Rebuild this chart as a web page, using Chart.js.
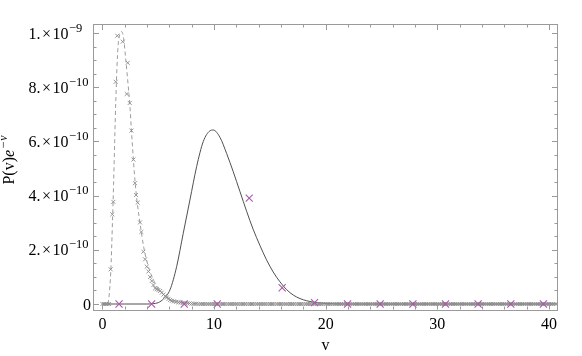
<!DOCTYPE html>
<html><head><meta charset="utf-8">
<script src="https://cdn.jsdelivr.net/npm/chart.js@4/dist/chart.umd.min.js"></script>
<style>html,body{margin:0;padding:0;background:#fff}#wrap{width:582px;height:356px}</style>
</head><body><div id="wrap"><canvas id="c" width="582" height="356"></canvas></div>
<script>
// All P values are in units of 1e-10
const solidV = [0, 2, 4, 4.5, 5, 5.5, 6.05, 6.65, 7.24, 7.84, 8.44, 9.03, 9.63, 9.93, 10.53, 11.13, 11.72, 12.32, 12.92, 13.5, 14.1, 14.7, 15.3, 15.9, 16.5, 17.1, 17.7, 18.3, 18.9, 19.5, 20.5, 22, 30, 40.8];
const solidP = [0, 0, 0, 0.01, 0.05, 0.2, 0.52, 1.38, 2.61, 3.84, 5.07, 5.99, 6.39, 6.42, 6.15, 5.55, 4.88, 4.15, 3.42, 2.76, 2.17, 1.63, 1.18, 0.82, 0.53, 0.33, 0.2, 0.12, 0.07, 0.04, 0.01, 0, 0, 0];

const dashV = [0.5, 0.6, 0.75, 0.9, 1.0, 1.1, 1.2, 1.3, 1.4, 1.55, 1.73, 1.9, 2.1, 2.3, 2.45, 2.6, 2.78, 2.95, 3.1, 3.4, 3.7, 4.0, 4.5, 5, 5.5, 6, 7, 8, 10, 40.8];
const dashP = [0, 0.3, 1.2, 3.0, 4.4, 6.0, 7.5, 8.7, 9.5, 9.95, 10.05, 9.8, 9.0, 8.1, 7.4, 6.4, 5.3, 4.4, 3.8, 2.9, 2.1, 1.55, 0.95, 0.58, 0.35, 0.2, 0.07, 0.02, 0, 0];

const mcV = [0, 0.15, 0.3, 0.45, 0.6, 0.74, 0.89, 0.98, 1.19, 1.33, 1.82, 2.18, 2.27, 2.45, 2.6, 2.78, 2.92, 3.01, 3.16, 3.37, 3.49, 3.67, 3.82, 3.97, 4.12, 4.27, 4.42, 4.57, 4.72, 4.87, 5.02, 5.17, 5.32, 5.47, 5.62, 5.77, 5.92, 6.07, 6.22];
const mcP = [0, 0, 0, 0, 0, 1.28, 3.31, 3.77, 8.2, 9.9, 9.68, 7.75, 8.9, 7.42, 6.4, 5.33, 4.46, 4.02, 3.74, 3.01, 2.66, 1.93, 1.65, 1.38, 1.2, 1.0, 0.85, 0.7, 0.58, 0.55, 0.52, 0.48, 0.42, 0.35, 0.29, 0.24, 0.19, 0.15, 0.12];

const tailV = [6.4, 6.6, 6.8,
  7, 7.2, 7.4, 7.6, 7.8, 8, 8.2, 8.4, 8.6, 8.8, 9, 9.2, 9.4, 9.6, 9.8,
  10, 10.2, 10.4, 10.6, 10.8, 11, 11.2, 11.4, 11.6, 11.8, 12, 12.2, 12.4, 12.6, 12.8,
  13, 13.2, 13.4, 13.6, 13.8, 14, 14.2, 14.4, 14.6, 14.8, 15, 15.2, 15.4, 15.6, 15.8,
  16, 16.2, 16.4, 16.6, 16.8, 17, 17.2, 17.4, 17.6, 17.8, 18, 18.2, 18.4, 18.6, 18.8,
  19, 19.2, 19.4, 19.6, 19.8, 20, 20.2, 20.4, 20.6, 20.8, 21, 21.2, 21.4, 21.6, 21.8,
  22, 22.2, 22.4, 22.6, 22.8, 23, 23.2, 23.4, 23.6, 23.8, 24, 24.2, 24.4, 24.6, 24.8,
  25, 25.2, 25.4, 25.6, 25.8, 26, 26.2, 26.4, 26.6, 26.8, 27, 27.2, 27.4, 27.6, 27.8,
  28, 28.2, 28.4, 28.6, 28.8, 29, 29.2, 29.4, 29.6, 29.8, 30, 30.2, 30.4, 30.6, 30.8,
  31, 31.2, 31.4, 31.6, 31.8, 32, 32.2, 32.4, 32.6, 32.8, 33, 33.2, 33.4, 33.6, 33.8,
  34, 34.2, 34.4, 34.6, 34.8, 35, 35.2, 35.4, 35.6, 35.8, 36, 36.2, 36.4, 36.6, 36.8,
  37, 37.2, 37.4, 37.6, 37.8, 38, 38.2, 38.4, 38.6, 38.8, 39, 39.2, 39.4, 39.6, 39.8,
  40, 40.2, 40.4, 40.6];
const tailP = [0.1, 0.08, 0.065, 0.05, 0.04, 0.03, 0.025, 0.02, 0.015, 0.01, 0.01,
  0,0,0,0,0,0,0,0,0,0,0,0,0,0,0,0,0,0,0,0,
  0,0,0,0,0,0,0,0,0,0,0,0,0,0,0,0,0,0,0,0,
  0,0,0,0,0,0,0,0,0,0,0,0,0,0,0,0,0,0,0,0,
  0,0,0,0,0,0,0,0,0,0,0,0,0,0,0,0,0,0,0,0,
  0,0,0,0,0,0,0,0,0,0,0,0,0,0,0,0,0,0,0,0,
  0,0,0,0,0,0,0,0,0,0,0,0,0,0,0,0,0,0,0,0,
  0,0,0,0,0,0,0,0,0,0,0,0,0,0,0,0,0,0,0,0,
  0,0,0,0,0,0,0,0,0,0,0,0,0,0,0,0,0,0,0,0,
  0];

const magV = [1.49, 4.41, 7.33, 10.29, 13.15, 16.1, 19.0, 21.96, 24.88, 27.81, 30.73, 33.65, 36.58, 39.5];
const magP = [0, 0, 0, 0, 3.91, 0.60, 0.05, 0, 0, 0, 0, 0, 0, 0];

const xTickVals = [0, 10, 20, 30, 40];
const xTickLabels = ['0', '10', '20', '30', '40'];
const xMinorVals = [2, 4, 6, 8, 12, 14, 16, 18, 22, 24, 26, 28, 32, 34, 36, 38];
const yTickVals = [0, 2, 4, 6, 8, 10];
const yTickMant = ['0', '2.', '4.', '6.', '8.', '1.'];
const yTickExp = ['', '\u221210', '\u221210', '\u221210', '\u221210', '\u22129'];
const yMinorVals = [0.5, 1, 1.5, 2.5, 3, 3.5, 4.5, 5, 5.5, 6.5, 7, 7.5, 8.5, 9, 9.5];

const pts = (xs, ys) => xs.map((x, i) => ({x: x, y: ys[i]}));
const SERIF = '"Liberation Serif", "DejaVu Serif", serif';

const framePlugin = {
  id: 'frameTicks',
  afterDraw(chart) {
    const ctx = chart.ctx, a = chart.chartArea;
    const xs = chart.scales.x, ys = chart.scales.y;
    ctx.save();
    ctx.strokeStyle = '#9a9a9a';
    ctx.lineWidth = 1;
    ctx.strokeRect(Math.round(a.left) + 0.5, Math.round(a.top) + 0.5, Math.round(a.right - a.left) - 1, Math.round(a.bottom - a.top) - 1);
    const L = Math.round(a.left) + 0.5, R = Math.round(a.right) - 0.5, T = Math.round(a.top) + 0.5, B = Math.round(a.bottom) - 0.5;
    ctx.beginPath();
    const xt = (v, len) => { const p = Math.round(xs.getPixelForValue(v)) + 0.5; ctx.moveTo(p, B); ctx.lineTo(p, B - len); ctx.moveTo(p, T); ctx.lineTo(p, T + len); };
    const yt = (v, len) => { const p = Math.round(ys.getPixelForValue(v)) + 0.5; ctx.moveTo(L, p); ctx.lineTo(L + len, p); ctx.moveTo(R, p); ctx.lineTo(R - len, p); };
    xTickVals.forEach(v => xt(v, 5.5));
    xMinorVals.forEach(v => xt(v, 3));
    yTickVals.forEach(v => yt(v, 5.5));
    yMinorVals.forEach(v => yt(v, 3));
    ctx.stroke();

    ctx.fillStyle = '#000';
    ctx.textBaseline = 'alphabetic';
    ctx.textAlign = 'center';
    ctx.font = '16px ' + SERIF;
    xTickVals.forEach((v, i) => ctx.fillText(xTickLabels[i], xs.getPixelForValue(v), 328.5));
    // y tick labels
    yTickVals.forEach((v, i) => {
      const py = ys.getPixelForValue(v) + 5.5;
      ctx.font = '16px ' + SERIF;
      if (!yTickExp[i]) { ctx.textAlign = 'right'; ctx.fillText(yTickMant[i], 91, py); return; }
      const x10 = 68.5;
      ctx.textAlign = 'right';
      ctx.fillText('10', x10, py);
      const w10 = ctx.measureText('10').width;
      const xm = x10 - w10 - 1.5;
      ctx.fillText('\u00d7', xm, py);
      const wx = ctx.measureText('\u00d7').width;
      ctx.fillText(yTickMant[i], xm - wx - 1.5, py);
      ctx.textAlign = 'left';
      ctx.font = '12.5px ' + SERIF;
      ctx.fillText(yTickExp[i], x10 + 0.5, py - 7);
    });
    // x title
    ctx.font = '16px ' + SERIF;
    ctx.textAlign = 'center';
    ctx.fillText('v', (a.left + a.right) / 2, 350);
    // y title
    ctx.save();
    ctx.translate(14, 160);
    ctx.rotate(-Math.PI / 2);
    ctx.textAlign = 'left';
    const f1 = '16px ' + SERIF, f2 = 'italic 16px ' + SERIF, f3 = 'italic 12px ' + SERIF;
    ctx.font = f1; const w1 = ctx.measureText('P(v)').width;
    ctx.font = f2; const w2 = ctx.measureText('e').width;
    ctx.font = f3; const w3 = ctx.measureText('\u2212v').width;
    let x0 = -(w1 + w2 + w3 + 1) / 2;
    ctx.font = f1; ctx.fillText('P(v)', x0, 0); x0 += w1;
    ctx.font = f2; ctx.fillText('e', x0, 0); x0 += w2 + 1;
    ctx.font = f3; ctx.fillText('\u2212v', x0, -7);
    ctx.restore();
    ctx.restore();
  }
};

new Chart(document.getElementById('c'), {
  type: 'scatter',
  data: {
    datasets: [
      { label: 'mag', data: pts(magV, magP), pointStyle: 'crossRot', pointRadius: 5, borderColor: '#a85aa8', backgroundColor: '#a85aa8', borderWidth: 1.1, showLine: false },
      { label: 'mc', data: pts(mcV.concat(tailV), mcP.concat(tailP)), pointStyle: 'crossRot', pointRadius: 2.8, borderColor: '#8a8a8a', backgroundColor: '#8a8a8a', borderWidth: 0.9, showLine: false },
      { label: 'dash', data: pts(dashV, dashP), showLine: true, pointRadius: 0, borderColor: '#9c9c9c', borderWidth: 1, borderDash: [4, 3], cubicInterpolationMode: 'monotone', fill: false },
      { label: 'solid', data: pts(solidV, solidP), showLine: true, pointRadius: 0, borderColor: '#505050', borderWidth: 1, cubicInterpolationMode: 'monotone', fill: false }
    ]
  },
  options: {
    responsive: false,
    animation: false,
    devicePixelRatio: 1,
    layout: { padding: { left: 93, right: 24, top: 23.5, bottom: 46 } },
    plugins: { legend: { display: false }, tooltip: { enabled: false } },
    events: [],
    scales: {
      x: { type: 'linear', min: -0.842, max: 40.806, display: false },
      y: { type: 'linear', min: -0.221, max: 10.351, display: false }
    }
  },
  plugins: [framePlugin]
});
</script></body></html>
